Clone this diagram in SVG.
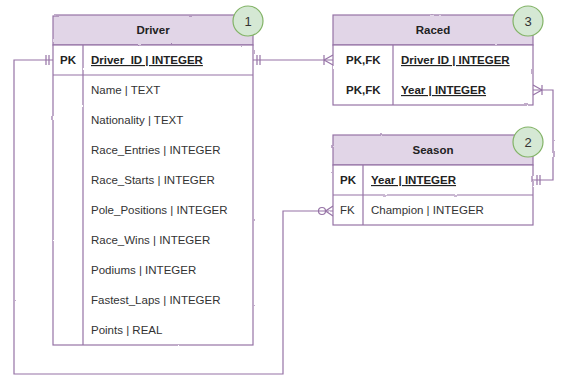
<svg xmlns="http://www.w3.org/2000/svg" width="568" height="391" viewBox="0 0 568 391">
<defs>
<filter id="rough" x="-5%" y="-5%" width="110%" height="110%">
<feTurbulence type="fractalNoise" baseFrequency="0.08" numOctaves="2" seed="3" result="n"/>
<feDisplacementMap in="SourceGraphic" in2="n" scale="1.8" xChannelSelector="R" yChannelSelector="G"/>
</filter>
</defs>
<style>
.box{fill:#ffffff;stroke:#9673a6;stroke-width:1.2}
.head{fill:#e1d5e7;stroke:#9673a6;stroke-width:1.2}
.ln{fill:none;stroke:#9673a6;stroke-width:1.2}
.badge{fill:#d5e8d4;stroke:#82b366;stroke-width:1.2}
text{font-family:"Liberation Sans",Arial,sans-serif;font-size:11.5px;fill:#333333}
.t{font-weight:bold;text-anchor:middle;fill:#222}
.k{font-weight:bold;fill:#222}
.pk{font-weight:bold;text-decoration:underline;fill:#222}
.n{text-anchor:middle;font-size:13px;fill:#333}
</style>
<g id="connectors" filter="url(#rough)">
<path class="ln" d="M53,60 H14 V374 H283 V211 H333"/>
<path class="ln" d="M46,55 V65 M49,55 V65"/>
<path class="ln" d="M253,60 H333"/>
<path class="ln" d="M257,55 V65 M260,55 V65"/>
<path class="ln" d="M324,55 V65 M324,60 L333,55 M324,60 L333,65"/>
<path class="ln" d="M533,90 H553 V180 H533"/>
<path class="ln" d="M542,85 V95 M542,90 L533,85 M542,90 L533,95"/>
<path class="ln" d="M537,175 V185 M540,175 V185"/>
<circle class="ln" cx="322" cy="211" r="3.5"/>
<path class="ln" d="M325.5,211 L333,206 M325.5,211 L333,216"/>
</g>
<g id="driver">
<g filter="url(#rough)">
<rect class="head" x="53" y="15" width="200" height="30"/>
<rect class="box" x="53" y="45" width="200" height="300"/>
<path class="ln" d="M53,75 H253 M83,45 V345"/>
</g>
<text class="t" x="153" y="34">Driver</text>
<text class="k" x="60" y="64">PK</text>
<text class="pk" x="91" y="64">Driver_ID | INTEGER</text>
<text x="91" y="94">Name | TEXT</text>
<text x="91" y="124">Nationality | TEXT</text>
<text x="91" y="154">Race_Entries | INTEGER</text>
<text x="91" y="184">Race_Starts | INTEGER</text>
<text x="91" y="214">Pole_Positions | INTEGER</text>
<text x="91" y="244">Race_Wins | INTEGER</text>
<text x="91" y="274">Podiums  | INTEGER</text>
<text x="91" y="304">Fastest_Laps  | INTEGER</text>
<text x="91" y="334">Points | REAL</text>
<circle class="badge" cx="248" cy="21" r="15"/>
<text class="n" x="248" y="26">1</text>
</g>
<g id="raced">
<g filter="url(#rough)">
<rect class="head" x="333" y="15" width="200" height="30"/>
<rect class="box" x="333" y="45" width="200" height="60"/>
<path class="ln" d="M393,45 V105"/>
</g>
<text class="t" x="433" y="34">Raced</text>
<text class="k" x="346" y="64">PK,FK</text>
<text class="pk" x="401" y="64">Driver ID | INTEGER</text>
<text class="k" x="346" y="94">PK,FK</text>
<text class="pk" x="401" y="94">Year | INTEGER</text>
<circle class="badge" cx="528" cy="21" r="15"/>
<text class="n" x="528" y="26">3</text>
</g>
<g id="season">
<g filter="url(#rough)">
<rect class="head" x="333" y="135" width="200" height="30"/>
<rect class="box" x="333" y="165" width="200" height="60"/>
<path class="ln" d="M333,195 H533 M363,165 V225"/>
</g>
<text class="t" x="433" y="154">Season</text>
<text class="k" x="340" y="184">PK</text>
<text class="pk" x="371" y="184">Year | INTEGER</text>
<text x="340" y="214">FK</text>
<text x="371" y="214">Champion | INTEGER</text>
<circle class="badge" cx="528" cy="142" r="15"/>
<text class="n" x="528" y="147">2</text>
</g>
</svg>
